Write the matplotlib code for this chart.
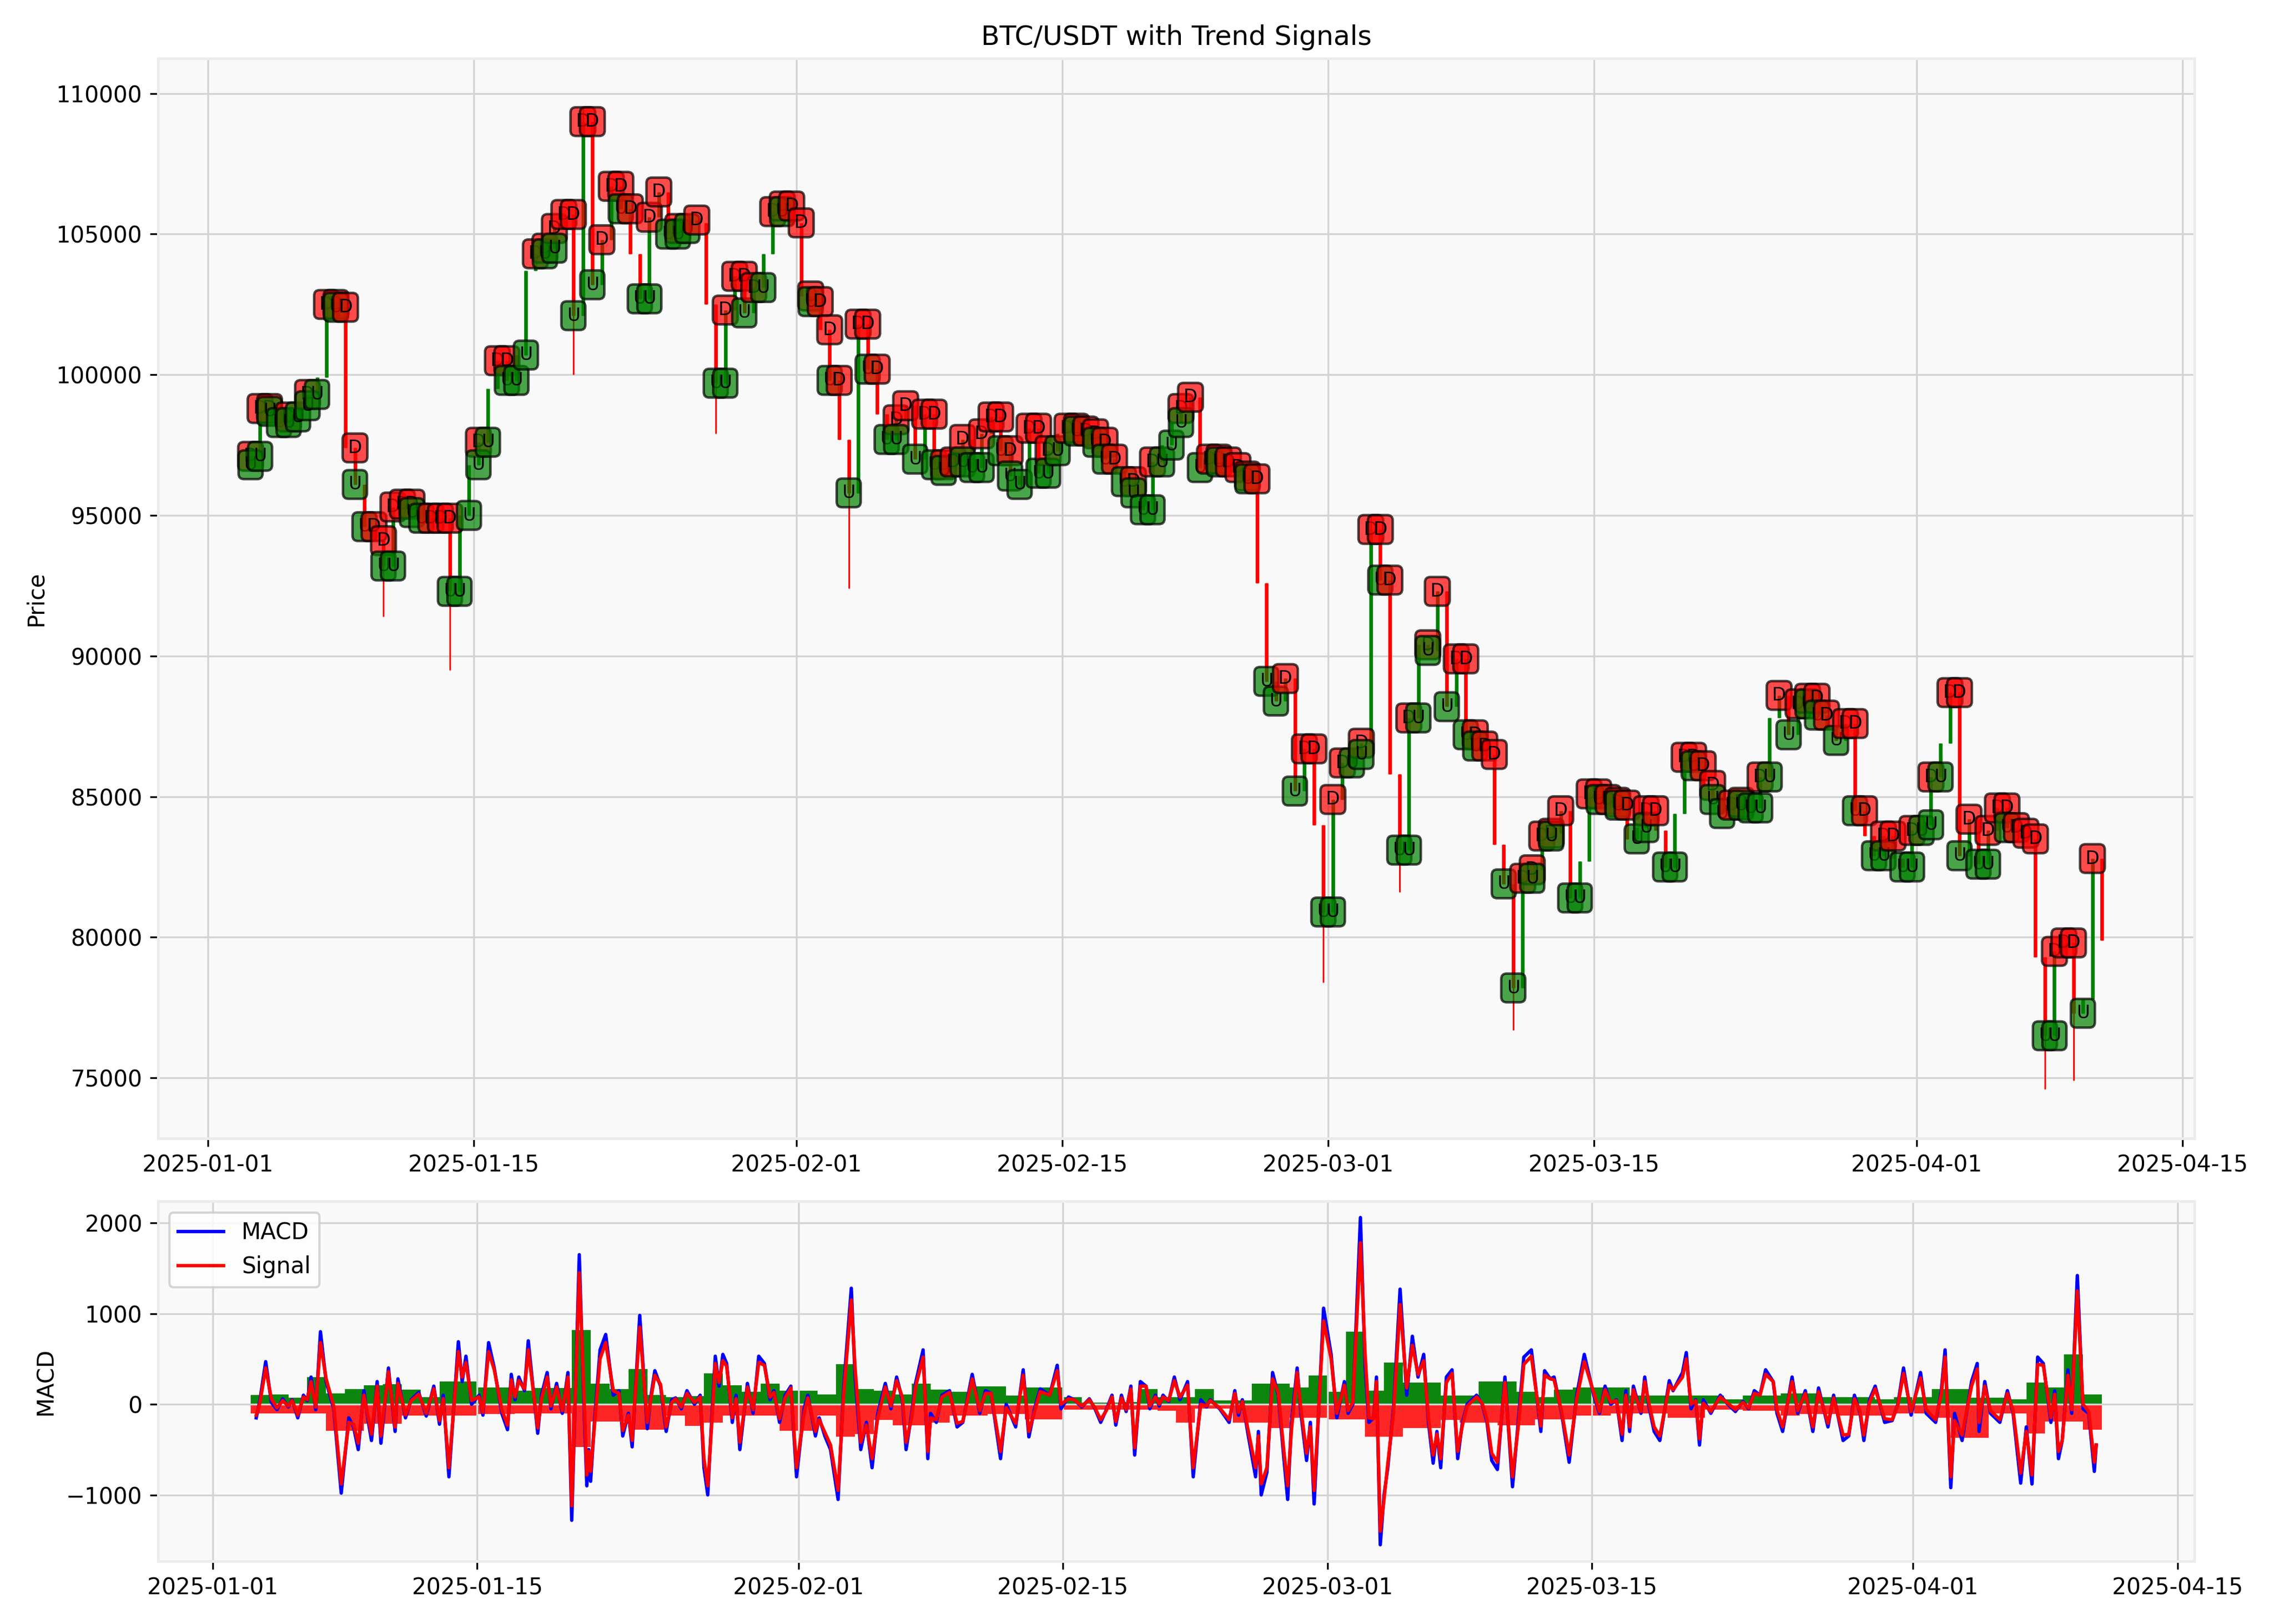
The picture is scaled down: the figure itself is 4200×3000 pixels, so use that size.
import matplotlib
matplotlib.use("Agg")
import matplotlib.dates as mdates
import matplotlib.pyplot as plt
import numpy as np
import pandas as pd


START = "2025-01-03 06:00"
BASE = "2025-01-01"

# 12-hour closing prices
OPEN0 = 96800
CLOSE = [
    97100, 98800, 98700, 98300, 98500, 98900, 99300, 99900, 102500, 102400,
    97400, 96100, 94600, 94100, 93200, 95300, 95400, 95100, 94900, 94700,
    94900, 92300, 95000, 96800, 97600, 99500, 100500, 99800, 100700, 103700,
    104300, 104500, 105200, 105700, 102100, 109000, 103200, 104800, 106700, 105900,
    104300, 102700, 105600, 106500, 105000, 105200, 105500, 105400, 102500, 99700,
    102300, 103500, 102200, 103100, 104300, 105800, 106000, 105400, 102800, 102600,
    101600, 99800, 97700, 95800, 101800, 100200, 98600, 97700, 98400, 98900,
    97000, 98600, 96800, 96600, 96900, 97700, 96700, 97900, 98500, 97300,
    96400, 96100, 98100, 96500, 97300, 97900, 98100, 98000, 97900, 97600,
    97000, 96600, 96200, 95800, 95200, 96900, 97500, 98300, 98800, 99200,
    96700, 97000, 96900, 96700, 96400, 96300, 92600, 89100, 88400, 89200,
    85200, 86700, 84000, 80900, 84900, 86200, 86500, 86900, 94500, 92700,
    85800, 83100, 87800, 90400, 90200, 92300, 88200, 89900, 87200, 86800,
    86500, 83300, 81900, 78200, 82100, 82400, 83600, 83700, 84500, 81400,
    82700, 85100, 84900, 84800, 84700, 83500, 83900, 84500, 83800, 82500,
    84400, 86400, 86100, 85400, 84900, 84400, 84700, 84800, 84600, 85700,
    87800, 88600, 87200, 88300, 88500, 87900, 87400, 87000, 87600, 84500,
    83600, 82900, 83600, 82800, 82500, 83800, 84000, 85700, 86900, 88700,
    82900, 84200, 82600, 83800, 84600, 83900, 83700, 83500, 79300, 76500,
    79500, 79800, 77300, 77800, 82800, 79900,
]

# long wicks
WICK_TIMES = [
    "2025-01-10 06:00", "2025-01-13 18:00", "2025-01-20 06:00", "2025-01-20 18:00",
    "2025-01-27 18:00", "2025-02-03 18:00", "2025-02-28 18:00", "2025-03-03 06:00",
    "2025-03-04 18:00", "2025-03-10 18:00", "2025-04-07 18:00", "2025-04-09 06:00",
]
WICK_PRICES = [91400, 89500, 100000, 109500, 97900, 92400, 78400, 95000,
               81600, 76700, 74600, 74900]

# trend signal per candle: U = up, D = down, B = both, . = none
SIGNALS = (
    "BBBUBUBUDB" "DBUDBBDBUD" "DBUUBUDBUU" "DBBDBDBDDB" "DUBDUBUD.U"
    "BDBDUDBDDB" "DBDUDBDUBD" "UDBBDBUBDB" "BUDBBUDBDB" "BDUBUBUUBD"
    "UDBDDBDUUD" "UDDUBDUBDB" "DUBUBDUDBB" "DDUUDBDBDU" "UDBDBDUBDU"
    "UDBDBUDBUB" "UDUDBBDUDB" "DUBDUBUBUD" "BDUBDBDDDU" "BDDUD."
)

# MACD / signal, times in days after 2025-01-01
MACD_T = [
    2.3, 2.5, 2.8, 3.1, 3.4, 3.7, 4.0, 4.2, 4.5, 4.8,
    5.0, 5.2, 5.45, 5.7, 6.0, 6.4, 6.8, 7.2, 7.45, 7.7,
    8.0, 8.2, 8.4, 8.7, 8.9, 9.3, 9.65, 9.8, 10.2, 10.5,
    10.9, 11.3, 11.7, 12.0, 12.2, 12.5, 13.0, 13.2, 13.4, 13.7,
    14.1, 14.3, 14.6, 14.9, 15.3, 15.6, 15.8, 16.0, 16.2, 16.5,
    16.7, 17.2, 17.4, 17.7, 17.9, 18.2, 18.5, 18.8, 19.0, 19.4,
    19.6, 19.8, 19.9, 20.0, 20.2, 20.5, 20.8, 21.2, 21.5, 21.7,
    22.0, 22.2, 22.6, 23.0, 23.2, 23.4, 23.7, 24.0, 24.3, 24.5,
    24.8, 25.1, 25.5, 25.8, 26.0, 26.2, 26.4, 26.6, 26.8, 27.0,
    27.2, 27.5, 27.7, 27.9, 28.3, 28.6, 28.9, 29.2, 29.5, 29.7,
    30.0, 30.3, 30.6, 30.9, 31.3, 31.5, 31.9, 32.1, 32.4, 32.7,
    33.1, 33.4, 33.8, 34.0, 34.3, 34.6, 34.9, 35.2, 35.6, 35.9,
    36.2, 36.5, 36.7, 37.0, 37.2, 37.6, 37.85, 38.0, 38.3, 38.6,
    39.0, 39.4, 39.7, 40.2, 40.6, 40.9, 41.2, 41.7, 42.0, 42.5,
    42.9, 43.2, 43.5, 43.8, 44.3, 44.7, 44.9, 45.3, 45.6, 46.0,
    46.4, 46.7, 47.0, 47.3, 47.6, 47.8, 48.1, 48.35, 48.6, 48.8,
    49.1, 49.4, 49.6, 49.9, 50.1, 50.3, 50.6, 50.9, 51.2, 51.6,
    51.9, 52.3, 52.6, 52.8, 53.3, 53.8, 54.1, 54.3, 54.5, 54.8,
    55.2, 55.35, 55.5, 55.8, 56.1, 56.4, 56.7, 56.9, 57.1, 57.4,
    57.6, 57.9, 58.1, 58.3, 58.8, 59.2, 59.5, 59.9, 60.1, 60.35,
    60.75, 61.0, 61.2, 61.45, 61.6, 61.8, 62.0, 62.2, 62.5, 62.85,
    63.2, 63.5, 63.8, 64.1, 64.35, 64.6, 64.8, 65.0, 65.3, 65.6,
    65.9, 66.15, 66.4, 66.9, 67.2, 67.45, 67.7, 68.0, 68.4, 68.8,
    69.1, 69.4, 69.8, 70.3, 70.5, 70.8, 71.0, 71.4, 71.8, 72.2,
    72.6, 73.1, 73.4, 73.7, 74.0, 74.3, 74.6, 74.8, 75.0, 75.2,
    75.6, 75.8, 76.0, 76.3, 76.6, 77.1, 77.3, 77.8, 78.0, 78.25,
    78.5, 78.7, 78.9, 79.3, 79.8, 80.2, 80.6, 81.0, 81.3, 81.6,
    81.9, 82.2, 82.6, 82.8, 83.1, 83.6, 83.9, 84.3, 84.7, 85.0,
    85.5, 85.8, 86.3, 86.6, 86.9, 87.2, 87.4, 87.7, 88.0, 88.5,
    88.9, 89.2, 89.5, 89.9, 90.4, 90.7, 91.2, 91.5, 91.7, 92.0,
    92.2, 92.6, 93.1, 93.4, 93.5, 93.8, 94.1, 94.6, 95.0, 95.3,
    95.7, 96.0, 96.3, 96.6, 96.9, 97.3, 97.5, 97.7, 97.9, 98.2,
    98.4, 98.7, 99.0, 99.3, 99.6, 99.7,
]
MACD_V = [
    -150, 50, 470, 20, -60, 60, -30, 50, -150, 100,
    40, 300, -60, 800, 250, -50, -980, -150, -250, -500,
    150, -150, -400, 250, -430, 400, -300, 280, -150, 50,
    130, -130, 200, -220, 100, -800, 690, 250, 530, 0,
    100, -120, 680, 400, -100, -280, 330, 50, 300, 150,
    700, -320, 100, 350, -50, 230, -100, 350, -1280, 1650,
    300, -900, -500, -850, -200, 600, 770, 100, 150, -350,
    -100, -470, 980, -270, 100, 370, 200, -300, 50, 70,
    -50, 150, 0, 100, -700, -1000, -200, 530, 200, 550,
    450, -200, 100, -500, 230, -100, 530, 450, 50, 150,
    -200, 100, 200, -800, -50, 100, -350, -150, -350, -500,
    -1050, 200, 1280, 300, -500, -200, -700, -100, 230, -50,
    300, 50, -500, -100, 230, 600, -600, -100, -200, 100,
    150, -250, -200, 330, -100, 150, 120, -600, 0, -250,
    380, -360, -50, 170, 100, 430, -50, 80, 50, -30,
    60, -50, -200, -60, 100, -230, 100, -80, 200, -560,
    250, 200, -50, 100, -20, 100, 30, 300, 50, 250,
    -800, 50, -30, 50, -50, -200, 150, -120, 50, -330,
    -800, -300, -1000, -750, 350, 100, -600, -1050, -200, 400,
    -100, -620, -200, -1100, 1060, 550, -150, 250, -100, 0,
    2060, 400, -200, -150, 300, -1550, -1000, -700, -50, 1270,
    100, 750, 300, 550, -200, -650, -300, -700, 300, 380,
    -600, -200, 0, 100, 0, -200, -620, -720, 300, -910,
    -200, 520, 600, -300, 370, 280, 300, -100, -640, 100,
    550, 100, -100, 200, 0, 50, -400, 150, -300, 200,
    -100, 300, 0, -300, -400, 260, 150, 350, 570, -50,
    50, -450, 50, -100, 100, 0, -80, 30, -50, 150,
    100, 380, 250, -100, -300, 300, -100, 150, -300, 180,
    -250, 100, -400, -350, 100, -100, -400, 50, 200, -200,
    -180, 0, 400, -120, 350, -100, -200, 150, 600, -920,
    -100, -400, 250, 450, -300, 250, -100, -200, 150, -100,
    -870, -250, -880, 520, 450, -200, 150, -600, -400, 380,
    -100, 1420, -50, -100, -740, -450,
]
SIGNAL_V = [
    -120, 20, 400, 60, -40, 40, -20, 40, -120, 80,
    50, 250, -30, 680, 280, -20, -880, -200, -220, -430,
    100, -120, -330, 200, -350, 360, -250, 230, -120, 40,
    110, -100, 170, -180, 60, -700, 580, 300, 460, 40,
    80, -90, 580, 380, -60, -230, 270, 80, 260, 170,
    600, -260, 60, 300, -20, 190, -70, 300, -1120, 1450,
    380, -780, -520, -740, -250, 500, 680, 150, 120, -290,
    -120, -400, 850, -200, 70, 320, 220, -250, 20, 60,
    -30, 120, 20, 80, -600, -900, -260, 450, 240, 480,
    420, -150, 60, -420, 190, -60, 460, 430, 80, 130,
    -160, 70, 180, -700, -100, 70, -300, -170, -310, -450,
    -950, 120, 1150, 400, -420, -230, -600, -150, 190, -20,
    260, 80, -420, -140, 190, 520, -520, -150, -170, 80,
    130, -210, -190, 280, -70, 120, 120, -520, -40, -210,
    320, -300, -80, 140, 100, 370, 0, 60, 50, -20,
    50, -40, -170, -70, 80, -190, 70, -60, 170, -480,
    200, 200, -20, 80, 0, 80, 40, 260, 80, 210,
    -700, 0, -20, 40, -40, -170, 120, -90, 30, -280,
    -700, -350, -880, -700, 280, 130, -520, -900, -280, 350,
    -50, -540, -250, -950, 920, 500, -100, 210, -70, 20,
    1780, 550, -150, -160, 250, -1400, -1050, -650, -100, 1100,
    180, 650, 330, 480, -150, -560, -330, -600, 240, 340,
    -520, -230, -20, 80, 10, -170, -540, -640, 240, -800,
    -260, 440, 530, -240, 320, 280, 270, -80, -560, 60,
    470, 130, -80, 160, 20, 40, -330, 100, -250, 160,
    -80, 250, 30, -250, -350, 210, 160, 300, 500, 0,
    40, -380, 10, -80, 80, 10, -60, 20, -40, 120,
    100, 330, 250, -60, -250, 250, -70, 120, -250, 140,
    -210, 70, -340, -330, 60, -80, -340, 20, 170, -160,
    -170, -10, 340, -80, 290, -60, -170, 110, 520, -800,
    -180, -340, 200, 390, -200, 200, -70, -170, 120, -70,
    -760, -300, -780, 440, 430, -150, 110, -520, -400, 320,
    -60, 1250, 0, -80, -640, -450,
]

# daily histogram envelope, 2025-01-03 .. 2025-04-10
HIST_UP = [
    100, 110, 70, 300, 120, 170, 210, 220, 160, 80,
    250, 250, 185, 185, 150, 180, 180, 820, 225, 170,
    390, 100, 80, 90, 340, 210, 135, 225, 150,
    150, 110, 445, 170, 150, 110, 225, 160, 135, 200,
    200, 95, 185, 185, 80, 20, 20, 25, 170, 80,
    80, 170, 45, 45, 230, 230, 185, 315,
    135, 800, 150, 460, 240, 240, 95, 95, 250, 250,
    135, 80, 160, 185, 185, 185, 95, 95, 95, 95,
    95, 55, 95, 95, 120, 120, 80, 80, 80, 55, 80,
    80, 170, 170, 70, 70, 55, 240, 185, 550, 110,
]
HIST_DN = [
    100, 100, 100, 100, 290, 290, 215, 215, 125, 125,
    125, 125, 110, 110, 100, 100, 100, 470, 190, 190,
    280, 280, 125, 240, 200, 125, 125, 125, 290,
    290, 125, 355, 330, 175, 230, 230, 200, 125, 125,
    110, 110, 165, 165, 60, 60, 60, 60, 60, 70,
    200, 45, 45, 200, 200, 265, 150, 150,
    165, 165, 355, 355, 265, 265, 175, 200, 200, 230,
    230, 165, 165, 125, 125, 100, 100, 100, 150, 150,
    60, 60, 70, 70, 125, 110, 110, 125, 125, 125, 100,
    100, 150, 370, 370, 100, 100, 320, 190, 190, 280,
]


def style_axis(ax):
    ax.set_facecolor("#f9f9f9")
    ax.grid(True, color="#d3d3d3", linewidth=0.8)
    for sp in ax.spines.values():
        sp.set_color("#ececec")
        sp.set_linewidth(1.2)


def main():
    dates = pd.date_range(START, periods=len(CLOSE), freq="12h")
    close = np.array(CLOSE, dtype=float)
    opens = np.r_[OPEN0, close[:-1]]
    body_lo = np.minimum(opens, close)
    body_hi = np.maximum(opens, close)
    low = body_lo.copy()
    high = body_hi.copy()
    for t, p in zip(WICK_TIMES, WICK_PRICES):
        i = dates.get_loc(pd.Timestamp(t))
        low[i] = min(low[i], p)
        high[i] = max(high[i], p)
    colours = np.where(close >= opens, "green", "red")

    fig = plt.figure(figsize=(14, 10), dpi=300)
    gs = fig.add_gridspec(2, 1, height_ratios=[3, 1])
    ax1 = fig.add_subplot(gs[0])
    ax2 = fig.add_subplot(gs[1])

    ax1.vlines(dates, low, high, colors=colours, linewidth=0.7)
    ax1.vlines(dates, body_lo, body_hi, colors=colours, linewidth=1.6)

    xs = mdates.date2num(dates)
    box = dict(boxstyle="round,pad=0.3", edgecolor="black", linewidth=1.1, alpha=0.7)
    for x, lo, hi, s in zip(xs, body_lo, body_hi, SIGNALS):
        if s in "DB":
            ax1.text(x, hi, "D", fontsize=8, ha="center", va="center", zorder=5,
                     bbox={**box, "facecolor": "red"})
        if s in "UB":
            ax1.text(x, lo, "U", fontsize=8, ha="center", va="center", zorder=5,
                     bbox={**box, "facecolor": "green"})

    ax1.set_title("BTC/USDT with Trend Signals")
    ax1.set_ylabel("Price")
    style_axis(ax1)

    # MACD panel
    macd_dates = pd.Timestamp(BASE) + pd.to_timedelta(MACD_T, unit="D")
    hist_days = pd.date_range("2025-01-03", periods=len(HIST_UP), freq="D") + pd.Timedelta(hours=12)
    ax2.bar(hist_days, HIST_UP, width=1.0, color="green", alpha=0.95)
    ax2.bar(hist_days, -np.array(HIST_DN), width=1.0, color="red", alpha=0.85)
    ax2.plot(macd_dates, MACD_V, color="blue", linewidth=1.5, label="MACD")
    ax2.plot(macd_dates, SIGNAL_V, color="red", linewidth=1.5, label="Signal")
    ax2.set_ylabel("MACD")
    ax2.legend(loc="upper left")
    style_axis(ax2)

    for ax in (ax1, ax2):
        ax.xaxis.set_major_formatter(mdates.DateFormatter("%Y-%m-%d"))

    fig.tight_layout()
    fig.savefig("out.png", dpi=300)
    plt.close(fig)


if __name__ == "__main__":
    main()
